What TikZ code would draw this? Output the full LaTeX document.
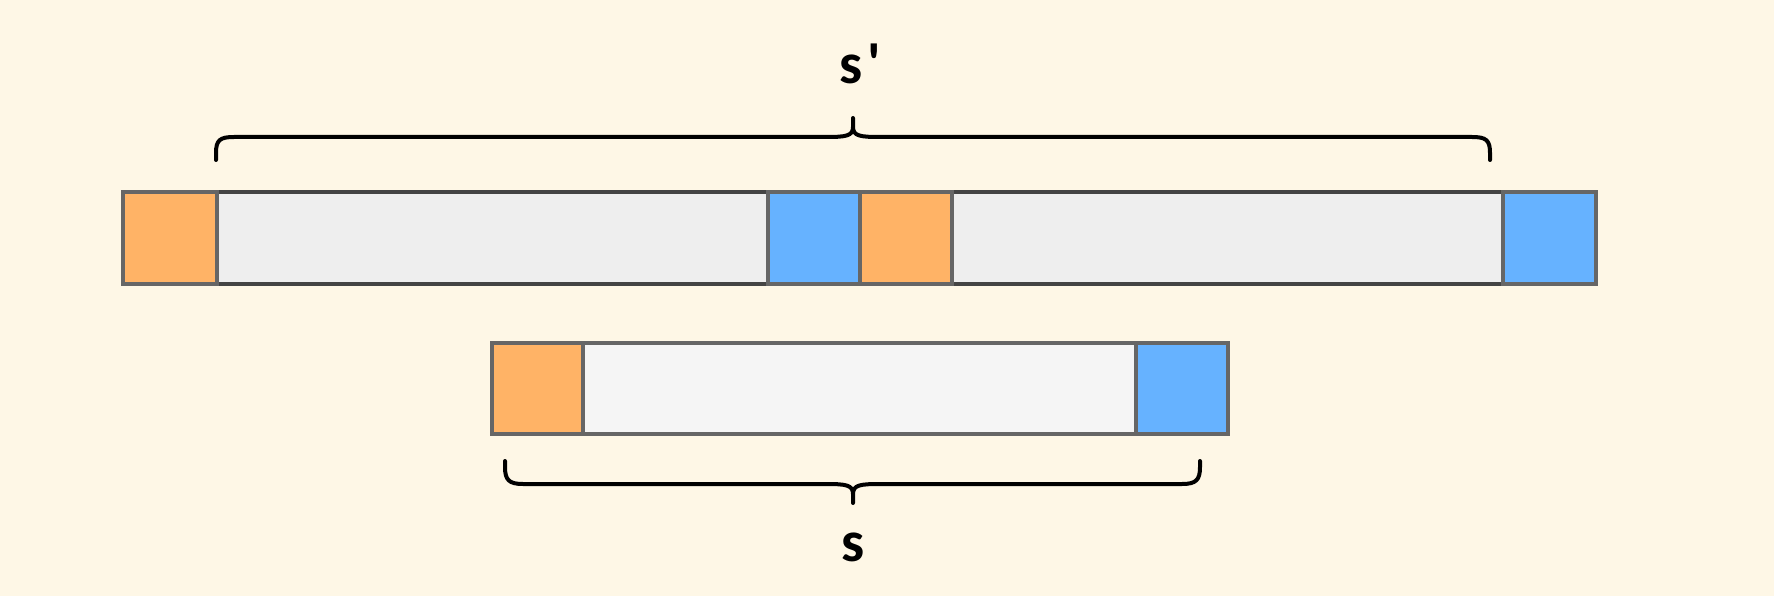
\documentclass[tikz,border=0pt]{standalone}
\usepackage{fontspec}
\newfontfamily\labfont{Carlito}
\definecolor{bg}{HTML}{FEF7E6}
\definecolor{orng}{HTML}{FFB366}
\definecolor{blu}{HTML}{66B2FF}
\definecolor{lgA}{HTML}{EEEEEE}
\definecolor{lgB}{HTML}{F5F5F5}
\definecolor{edge}{HTML}{666666}
\definecolor{edgeD}{HTML}{444444}
\tikzset{
  cell/.style={draw=edge, line width=4.5pt, inner sep=0pt, minimum height=92pt},
  brace/.style={draw=black, line width=4pt, line cap=round, line join=round},
  lab/.style={font=\labfont\bfseries\fontsize{58}{62}\selectfont, inner sep=0pt}
}
\begin{document}
\begin{tikzpicture}[x=1pt,y=-1pt]
\useasboundingbox[fill=bg] (0,0) rectangle (1774,596);
% top row
\node[cell, draw=edgeD, fill=lgA, minimum width=551pt] (g1) at (492.5,238) {};
\node[cell, draw=edgeD, fill=lgA, minimum width=551pt] (g2) at (1227.5,238) {};
\node[cell, fill=orng, minimum width=94pt] (o1) at (170,238) {};
\node[cell, fill=blu, minimum width=92pt] (b1) at (814,238) {};
\node[cell, fill=orng, minimum width=92pt] (o2) at (906,238) {};
\node[cell, fill=blu, minimum width=93pt] (b2) at (1549.5,238) {};
% bottom row
\node[cell, fill=lgB, minimum width=553pt, minimum height=91pt] (g3) at (859.5,388.5) {};
\node[cell, fill=orng, minimum width=91pt, minimum height=91pt] (o3) at (537.5,388.5) {};
\node[cell, fill=blu, minimum width=92pt, minimum height=91pt] (b3) at (1182,388.5) {};
% top brace
\draw[brace] (216,160) -- (216,153) .. controls (216,140) and (220,137) .. (234,137)
  -- (826,137) .. controls (846,137) and (853,136) .. (853,127) -- (853,118)
  -- (853,127) .. controls (853,136) and (860,137) .. (880,137)
  -- (1472,137) .. controls (1486,137) and (1490,140) .. (1490,153) -- (1490,160);
% bottom brace
\draw[brace] (505,461) -- (505,467) .. controls (505,480) and (509,484) .. (523,484)
  -- (826,484) .. controls (846,484) and (853,485) .. (853,494) -- (853,503)
  -- (853,494) .. controls (853,485) and (860,484) .. (880,484)
  -- (1182,484) .. controls (1196,484) and (1200,480) .. (1200,467) -- (1200,461);
% labels
\node[lab] (sp) at (860,64) {s\kern5pt\char"0027};
\node[lab] (s) at (853,547) {s};
\end{tikzpicture}
\end{document}
